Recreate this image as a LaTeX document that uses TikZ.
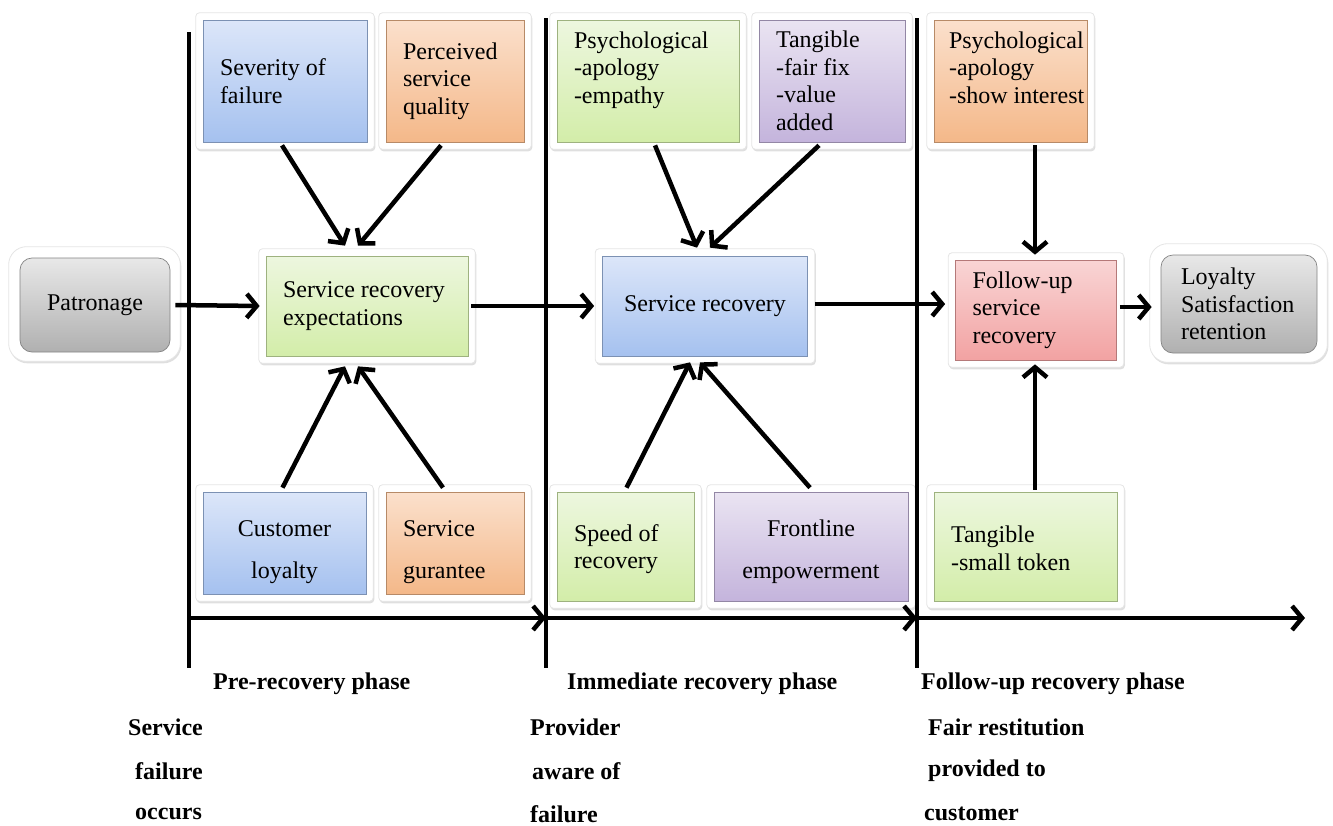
\documentclass[tikz,border=0pt]{standalone}
\usepackage{fontspec}
\setmainfont{Liberation Serif}
\usetikzlibrary{arrows.meta,shadows,backgrounds}
\definecolor{bluetop}{HTML}{DCE6F9}\definecolor{bluebot}{HTML}{A5C1EF}
\definecolor{orgtop}{HTML}{FBE0CC}\definecolor{orgbot}{HTML}{F4B889}
\definecolor{grntop}{HTML}{EDF7DF}\definecolor{grnbot}{HTML}{D3EDA9}
\definecolor{purtop}{HTML}{EAE4F2}\definecolor{purbot}{HTML}{C4B4DC}
\definecolor{redtop}{HTML}{F9D5D5}\definecolor{redbot}{HTML}{F2A2A2}
\definecolor{grytop}{HTML}{E8E8E8}\definecolor{grybot}{HTML}{B0B0B0}
\begin{document}
\begin{tikzpicture}[x=1pt,y=-1pt,
  base/.style={rectangle, inner xsep=0pt, inner ysep=0pt,
    font=\fontsize{24}{27.5}\selectfont,
    draw=#1bot!75!black, line width=0.7pt, top color=#1top, bottom color=#1bot},
  box/.style={base=#1, align=flush left, execute at begin node={\leftskip=17pt}},
  cbox/.style={base=#1, align=flush center},
  bw/.style={minimum width=#1, text width=#1},
  frame/.style={fill=white, draw=black!10, line width=0.8pt, rounded corners=4pt,
    drop shadow={opacity=0.25, shadow xshift=1pt, shadow yshift=-2pt}},
  rframe/.style={frame, rounded corners=18pt},
  arr/.style={line width=4.5pt, -{Straight Barb[length=10pt,width=24pt]}},
  phase/.style={line width=4.5pt},
  lbl/.style={font=\fontsize{24}{27.5}\selectfont\bfseries, anchor=west, inner sep=0pt}]
\useasboundingbox (0,0) rectangle (1333,825);

% phase lines
\coordinate (v1t) at (189,32); \coordinate (v1b) at (189,668);
\coordinate (v2t) at (546,18); \coordinate (v2b) at (546,668);
\coordinate (v3t) at (917,18); \coordinate (v3b) at (917,668);
\coordinate (h1) at (189,618); \coordinate (h2) at (546,618);
\coordinate (h3) at (917,618); \coordinate (h4) at (1305,618);
\draw[phase] (v1t) -- (v1b);
\draw[phase] (v2t) -- (v2b);
\draw[phase] (v3t) -- (v3b);
\draw[arr] (h1) -- (h2);
\draw[arr] (h2) -- (h3);
\draw[arr] (h3) -- (h4);

% top row
\node[box=blue, bw=164pt, minimum height=122pt] (sev) at (285,81) {Severity of\\failure};
\node[box=org, bw=138pt, minimum height=122pt] (perc) at (455,81) {Perceived\\service\\quality};
\node[box=grn, bw=182pt, minimum height=122pt] (psy1) at (648,81) {Psychological\\-apology\\-empathy\\\mbox{}};
\node[box=pur, bw=146pt, minimum height=122pt] (tang1) at (832,81) {Tangible\\-fair fix\\-value\\added};
\node[base=org, align=flush left, execute at begin node={\leftskip=15pt}, bw=153pt, minimum height=122pt] (psy2) at (1010.5,81) {Psychological\\-apology\\\mbox{-show interest}\\\mbox{}};

% middle row
\node[cbox=gry, rounded corners=12pt, bw=150pt, minimum height=94pt] (pat) at (95,305) {Patronage\hspace*{10pt}};
\node[box=grn, bw=202pt, minimum height=100pt] (sre) at (367,306) {Service recovery\\expectations};
\node[cbox=blue, bw=205pt, minimum height=100pt] (sr) at (705,306) {Service recovery};
\node[box=red, bw=161pt, minimum height=100pt] (fu) at (1036,310) {Follow-up\\service\\recovery};
\node[base=gry, align=flush left, execute at begin node={\leftskip=20pt}, rounded corners=12pt, bw=156pt, minimum height=98pt] (loy) at (1239,304) {Loyalty\\Satisfaction\\retention};

% bottom row
\node[cbox=blue, bw=163pt, minimum height=102pt] (cl) at (284.5,543) {\rule{0pt}{34pt}Customer\\[14.5pt]loyalty};
\node[box=org, bw=138pt, minimum height=102pt] (sg) at (455,543) {\rule{0pt}{34pt}Service\\[14.5pt]gurantee};
\node[box=grn, bw=137pt, minimum height=109pt] (sp) at (625.5,546.5) {\rule{0pt}{22pt}Speed of\\recovery};
\node[cbox=pur, bw=194pt, minimum height=109pt] (fl) at (811,546.5) {\rule{0pt}{28pt}Frontline\\[14.5pt]empowerment};
\node[box=grn, bw=183pt, minimum height=109pt] (tg) at (1025.5,546.5) {\rule{0pt}{20pt}Tangible\\-small token};

% white frames
\begin{scope}[on background layer]
\foreach \n in {sev,perc,psy1,tang1,psy2,sre,sr,fu,cl,sg,sp,fl,tg}
  \path[frame] ([xshift=-7pt,yshift=7pt]\n.north west) rectangle ([xshift=7pt,yshift=-7pt]\n.south east);
\foreach \n in {pat,loy}
  \path[rframe] ([xshift=-11pt,yshift=11pt]\n.north west) rectangle ([xshift=10pt,yshift=-9pt]\n.south east);
\end{scope}

% connectors
\draw[arr] ([xshift=-3pt,yshift=-3pt]sev.south) -- ([xshift=-22pt,yshift=10pt]sre.north);
\draw[arr] ([xshift=-14pt,yshift=-3pt]perc.south) -- ([xshift=-9pt,yshift=10pt]sre.north);
\draw[arr] ([xshift=-2pt,yshift=4pt]cl.north) -- ([xshift=-22pt,yshift=-10pt]sre.south);
\draw[arr] ([xshift=-12pt,yshift=4pt]sg.north) -- ([xshift=-9pt,yshift=-10pt]sre.south);
\draw[arr] ([xshift=5pt]pat.east) -- ([xshift=-6pt]sre.west);
\draw[arr] ([xshift=3pt]sre.east) -- ([xshift=-8pt]sr.west);
\draw[arr] ([xshift=7pt,yshift=-3pt]psy1.south) -- ([xshift=-8pt,yshift=8pt]sr.north);
\draw[arr] ([xshift=-13pt,yshift=-3pt]tang1.south) -- ([xshift=5pt,yshift=8pt]sr.north);
\draw[arr] ([xshift=1pt,yshift=4pt]sp.north) -- ([xshift=-15pt,yshift=-6pt]sr.south);
\draw[arr] ([xshift=-1pt,yshift=4pt]fl.north) -- ([xshift=-5pt,yshift=-6pt]sr.south);
\draw[arr] ([xshift=7pt,yshift=2pt]sr.east) -- ([xshift=-10pt,yshift=6pt]fu.west);
\draw[arr] ([xshift=24.5pt,yshift=-3pt]psy2.south) -- ([xshift=-1pt,yshift=5pt]fu.north);
\draw[arr] ([xshift=9.5pt,yshift=2pt]tg.north) -- ([xshift=-1pt,yshift=-4pt]fu.south);
\draw[arr] ([xshift=3pt,yshift=3pt]fu.east) -- ([xshift=-9pt,yshift=-3pt]loy.west);

% labels
\node[lbl] (ph1) at (213,684) {Pre-recovery phase};
\node[lbl] (ph2) at (567,684) {Immediate recovery phase};
\node[lbl] (ph3) at (921,684) {Follow-up recovery phase};
\node[lbl] (a1) at (128,727) {Service};
\node[lbl] (a2) at (135,771) {failure};
\node[lbl] (a3) at (135,814) {occurs};
\node[lbl] (b1) at (530,727) {Provider};
\node[lbl] (b2) at (532,771) {aware of};
\node[lbl] (b3) at (530,814) {failure};
\node[lbl] (c1) at (928,727) {Fair restitution};
\node[lbl] (c2) at (928,771) {provided to};
\node[lbl] (c3) at (924,814) {customer};
\end{tikzpicture}
\end{document}
